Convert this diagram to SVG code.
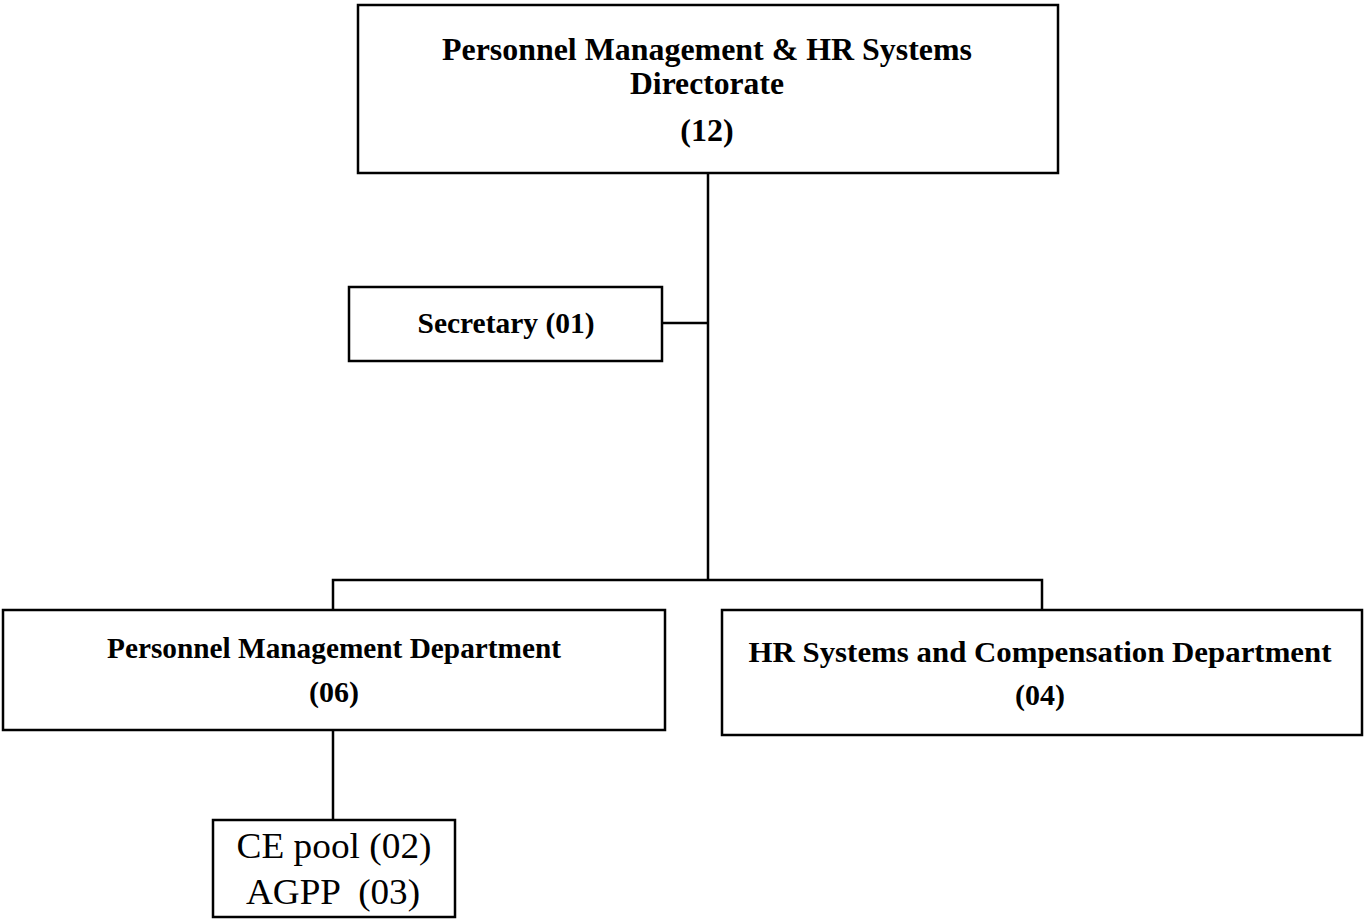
<svg xmlns="http://www.w3.org/2000/svg" width="1364" height="922" viewBox="0 0 1364 922">
<style>
.box{fill:#fff;stroke:#000;stroke-width:2.5}
.ln{stroke:#000;stroke-width:2.5;fill:none}
.b{font-family:"Liberation Serif","Times New Roman",serif;font-weight:bold;fill:#000;text-anchor:middle}
.r{font-family:"Liberation Serif","Times New Roman",serif;fill:#000;text-anchor:middle;font-size:36px}
</style>
<rect width="1364" height="922" fill="#fff"/>
<g id="connectors">
<path class="ln" d="M708,173 V580"/>
<path class="ln" d="M662,323 H708"/>
<path class="ln" d="M333,610 V580 H1042 V610"/>
<path class="ln" d="M333,730 V820"/>
</g>
<g id="directorate">
<rect class="box" x="358" y="5" width="700" height="168"/>
<text class="b" x="707" y="60" font-size="32" textLength="530" lengthAdjust="spacingAndGlyphs">Personnel Management &amp; HR Systems</text>
<text class="b" x="707" y="94" font-size="32" textLength="154" lengthAdjust="spacingAndGlyphs">Directorate</text>
<text class="b" x="707" y="141" font-size="32">(12)</text>
</g>
<g id="secretary">
<rect class="box" x="349" y="287" width="313" height="74"/>
<text class="b" x="506" y="333" font-size="30" textLength="177" lengthAdjust="spacingAndGlyphs">Secretary (01)</text>
</g>
<g id="pm-dept">
<rect class="box" x="3" y="610" width="662" height="120"/>
<text class="b" x="334" y="658" font-size="30" textLength="454" lengthAdjust="spacingAndGlyphs">Personnel Management Department</text>
<text class="b" x="334" y="702" font-size="30">(06)</text>
</g>
<g id="hr-dept">
<rect class="box" x="722" y="610" width="640" height="125"/>
<text class="b" x="1040" y="662" font-size="30" textLength="583" lengthAdjust="spacingAndGlyphs">HR Systems and Compensation Department</text>
<text class="b" x="1040" y="705" font-size="30">(04)</text>
</g>
<g id="ce-pool">
<rect class="box" x="213" y="820" width="242" height="97"/>
<text class="r" x="334" y="858" textLength="195" lengthAdjust="spacingAndGlyphs">CE pool (02)</text>
<text class="r" x="333" y="904" xml:space="preserve" textLength="174" lengthAdjust="spacingAndGlyphs">AGPP  (03)</text>
</g>
</svg>
